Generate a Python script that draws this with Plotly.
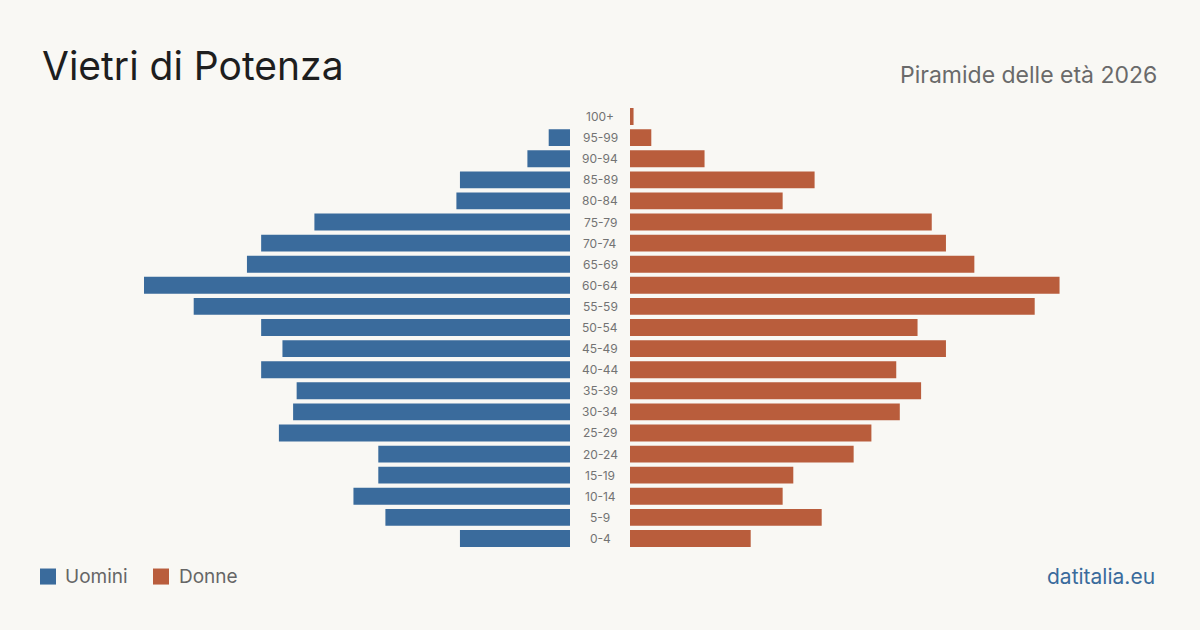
import plotly.graph_objects as go

age_groups = ["0-4", "5-9", "10-14", "15-19", "20-24", "25-29", "30-34", "35-39",
              "40-44", "45-49", "50-54", "55-59", "60-64", "65-69", "70-74",
              "75-79", "80-84", "85-89", "90-94", "95-99", "100+"]
uomini = [31, 52, 61, 54, 54, 82, 78, 77, 87, 81, 87, 106, 120, 91, 87, 72, 32, 31, 12, 6, 0]
donne = [34, 54, 43, 46, 63, 68, 76, 82, 75, 89, 81, 114, 121, 97, 89, 85, 43, 52, 21, 6, 1]

BLUE = "#3a6b9c"
ORANGE = "#b95d3c"
BG = "#f9f8f4"
W, H = 1200, 630
scale = 3.55
vmax = 130
left_end = 570
right_start = 630
span = vmax * scale

row = 21.05
top = 117 - row / 2
bottom = 538 + row / 2


def py(p):
    return (bottom - p) / (bottom - top)


fig = go.Figure()
fig.add_trace(go.Bar(y=age_groups, x=uomini, orientation="h", marker_color=BLUE,
                     marker_line_width=0,
                     width=0.8, name="Uomini", xaxis="x", yaxis="y", showlegend=False,
                     hovertemplate="%{y}: %{x}<extra>Uomini</extra>"))
fig.add_trace(go.Bar(y=age_groups, x=donne, orientation="h", marker_color=ORANGE,
                     marker_line_width=0,
                     width=0.8, name="Donne", xaxis="x2", yaxis="y", showlegend=False,
                     hovertemplate="%{y}: %{x}<extra>Donne</extra>"))

annotations = []
for g in age_groups:
    annotations.append(dict(x=0.5, xref="paper", y=g, yref="y", text=g, showarrow=False,
                            font=dict(family="Inter", size=12, color="#737373"),
                            xanchor="center", yanchor="middle"))

annotations += [
    dict(x=40 / W, y=py(66), xref="paper", yref="paper", text="Vietri di Potenza",
         showarrow=False, xanchor="left", yanchor="middle",
         font=dict(family="Inter", size=39, color="#1e1e1e")),
    dict(x=1159 / W, y=py(76), xref="paper", yref="paper", text="Piramide delle età 2026",
         showarrow=False, xanchor="right", yanchor="middle",
         font=dict(family="Inter", size=23, color="#6a6a6a")),
    dict(x=63 / W, y=py(576), xref="paper", yref="paper", text="Uomini",
         showarrow=False, xanchor="left", yanchor="middle",
         font=dict(family="Inter", size=19, color="#666")),
    dict(x=177 / W, y=py(576), xref="paper", yref="paper", text="Donne",
         showarrow=False, xanchor="left", yanchor="middle",
         font=dict(family="Inter", size=19, color="#666")),
    dict(x=1157 / W, y=py(576), xref="paper", yref="paper", text="datitalia.eu",
         showarrow=False, xanchor="right", yanchor="middle",
         font=dict(family="Inter", size=21, color=BLUE)),
]

shapes = [
    dict(type="rect", xref="paper", yref="paper", x0=40 / W, x1=56 / W,
         y0=py(584), y1=py(568), fillcolor=BLUE, line=dict(width=0)),
    dict(type="rect", xref="paper", yref="paper", x0=153 / W, x1=169 / W,
         y0=py(584), y1=py(568), fillcolor=ORANGE, line=dict(width=0)),
]

fig.update_layout(
    width=W, height=H,
    margin=dict(l=0, r=0, t=top, b=H - bottom),
    paper_bgcolor=BG, plot_bgcolor=BG,
    bargap=0.2,
    xaxis=dict(domain=[(left_end - span) / W, left_end / W], range=[vmax, 0],
               visible=False, fixedrange=True),
    xaxis2=dict(domain=[right_start / W, (right_start + span) / W], range=[0, vmax],
                visible=False, fixedrange=True),
    yaxis=dict(categoryorder="array", categoryarray=age_groups, range=[-0.5, 20.5],
               visible=False, fixedrange=True),
    annotations=annotations,
    shapes=shapes,
    font=dict(family="Inter"),
)

fig.write_html("out.html")
